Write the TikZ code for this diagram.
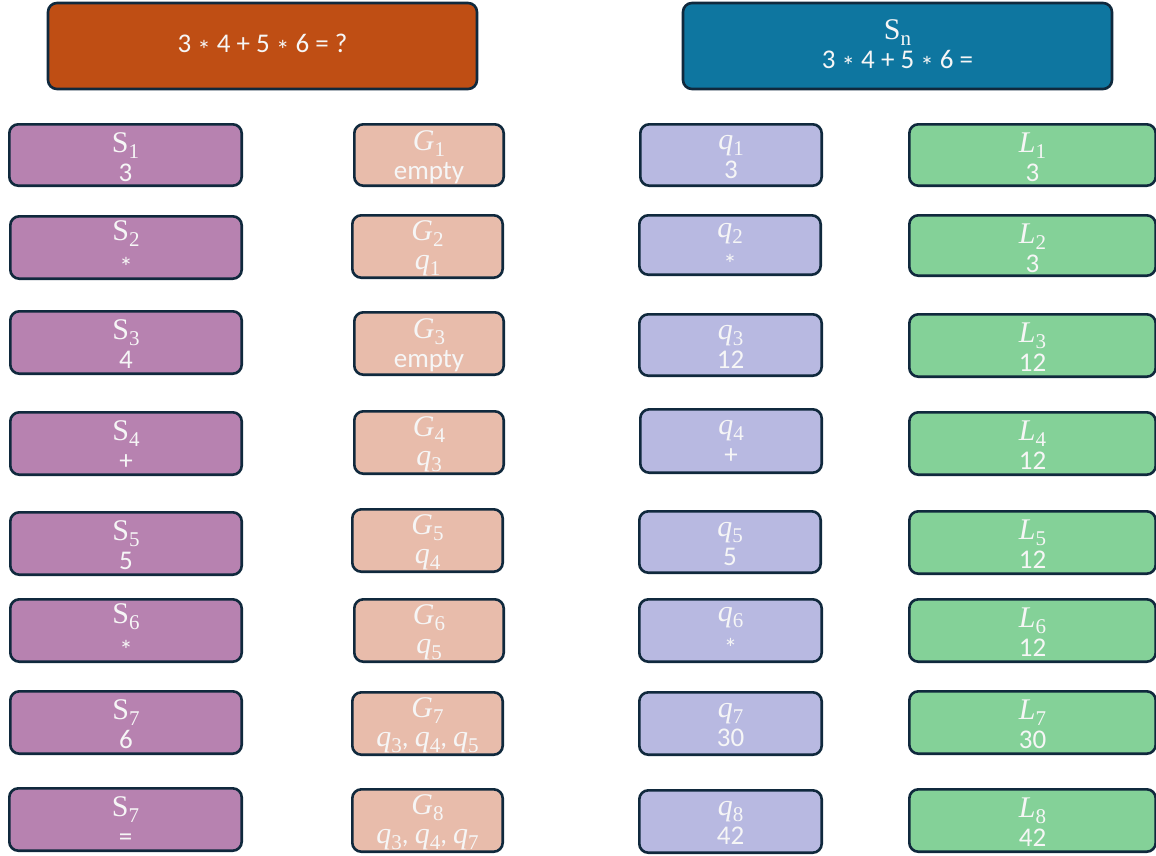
\documentclass[tikz,border=0pt]{standalone}
\usepackage{fontspec}
\setmainfont{Carlito}
\newfontfamily\mf{Liberation Serif}
\definecolor{orangeC}{HTML}{BF4E14}
\definecolor{blueC}{HTML}{0E76A0}
\definecolor{purpleC}{HTML}{B782B0}
\definecolor{peachC}{HTML}{E8BCAB}
\definecolor{lavC}{HTML}{B8B9E1}
\definecolor{greenC}{HTML}{84D198}
\definecolor{edgeC}{HTML}{10293D}
\definecolor{txtC}{HTML}{F6F6F6}
\newcommand\vu[2]{{\mf\fontsize{30}{28}\selectfont #1\raisebox{-0.2em}{\fontsize{21}{21}\selectfont #2}}}
\newcommand\vi[2]{{\mf\itshape\fontsize{30}{28}\selectfont #1\raisebox{-0.2em}{\upshape\fontsize{21}{21}\selectfont #2}}}
\newcommand\st{\raisebox{-0.55ex}{*}}
\tikzset{
  box/.style={draw=edgeC, line width=2.6pt, rounded corners=9pt, inner sep=0pt},
  txt/.style={text=txtC, font=\fontsize{27}{28}\selectfont, align=center, inner sep=0pt},
}
% name, x1, y1, x2, y2, fill, line1, line2
\newcommand\bx[8]{%
  \node[box, fill=#6, minimum width={(#4)-(#2)-2.6}, minimum height={(#5)-(#3)-2.6}] (#1) at ({((#2)+(#4))/2},{((#3)+(#5))/2}) {};
  \node[txt] (#1t) at ({((#2)+(#4))/2},{(#3)+34}) {#7\\[1pt]#8};
}
\begin{document}
\begin{tikzpicture}[x=1pt,y=-1pt]
\useasboundingbox (0,0) rectangle (1156,855);
% top boxes
\node[box, fill=orangeC, minimum width=429, minimum height=86] (top1) at (262.5,46) {};
\node[txt] (top1t) at (262.5,47) {3 \st{} 4 + 5 \st{} 6 = ?};
\node[box, fill=blueC, minimum width=429, minimum height=86] (top2) at (897.5,46) {};
\node[txt] (top2t) at (897.5,48) {\vu{S}{n}\\[1pt]3 \st{} 4 + 5 \st{} 6 =};
% S column
\bx{s1}{8}{123}{243}{187}{purpleC}{\vu{S}{1}}{3}
\bx{s2}{9}{215}{243}{280}{purpleC}{\vu{S}{2}}{\st}
\bx{s3}{9}{310}{243}{375}{purpleC}{\vu{S}{3}}{4}
\bx{s4}{9}{411}{243}{476}{purpleC}{\vu{S}{4}}{+}
\bx{s5}{9}{511}{243}{576}{purpleC}{\vu{S}{5}}{5}
\bx{s6}{9}{598}{243}{663}{purpleC}{\vu{S}{6}}{\st}
\bx{s7}{9}{690}{243}{755}{purpleC}{\vu{S}{7}}{6}
\bx{s8}{8}{787}{243}{852}{purpleC}{\vu{S}{7}}{=}
% G column
\bx{g1}{353}{123}{505}{187}{peachC}{\vi{G}{1}}{empty}
\bx{g2}{351}{214}{504}{279}{peachC}{\vi{G}{2}}{\vi{q}{1}}
\bx{g3}{353}{311}{505}{376}{peachC}{\vi{G}{3}}{empty}
\bx{g4}{353}{410}{505}{475}{peachC}{\vi{G}{4}}{\vi{q}{3}}
\bx{g5}{351}{508}{504}{573}{peachC}{\vi{G}{5}}{\vi{q}{4}}
\bx{g6}{353}{598}{505}{663}{peachC}{\vi{G}{6}}{\vi{q}{5}}
\bx{g7}{351}{691}{504}{756}{peachC}{\vi{G}{7}}{\vi{q}{3}, \vi{q}{4}, \vi{q}{5}}
\bx{g8}{351}{788}{504}{853}{peachC}{\vi{G}{8}}{\vi{q}{3}, \vi{q}{4}, \vi{q}{7}}
% q column
\bx{q1}{639}{123}{823}{187}{lavC}{\vi{q}{1}}{3}
\bx{q2}{638}{214}{822}{276}{lavC}{\vi{q}{2}}{\st}
\bx{q3}{638}{313}{823}{377}{lavC}{\vi{q}{3}}{12}
\bx{q4}{639}{408}{823}{474}{lavC}{\vi{q}{4}}{+}
\bx{q5}{638}{510}{822}{574}{lavC}{\vi{q}{5}}{5}
\bx{q6}{638}{598}{823}{663}{lavC}{\vi{q}{6}}{\st}
\bx{q7}{638}{691}{823}{756}{lavC}{\vi{q}{7}}{30}
\bx{q8}{638}{789}{823}{854}{lavC}{\vi{q}{8}}{42}
% L column
\bx{l1}{908}{123}{1157}{187}{greenC}{\vi{L}{1}}{3}
\bx{l2}{908}{214}{1157}{277}{greenC}{\vi{L}{2}}{3}
\bx{l3}{908}{313}{1157}{378}{greenC}{\vi{L}{3}}{12}
\bx{l4}{908}{411}{1157}{476}{greenC}{\vi{L}{4}}{12}
\bx{l5}{908}{510}{1157}{575}{greenC}{\vi{L}{5}}{12}
\bx{l6}{908}{598}{1157}{663}{greenC}{\vi{L}{6}}{12}
\bx{l7}{908}{690}{1157}{755}{greenC}{\vi{L}{7}}{30}
\bx{l8}{908}{788}{1157}{853}{greenC}{\vi{L}{8}}{42}
\end{tikzpicture}
\end{document}
